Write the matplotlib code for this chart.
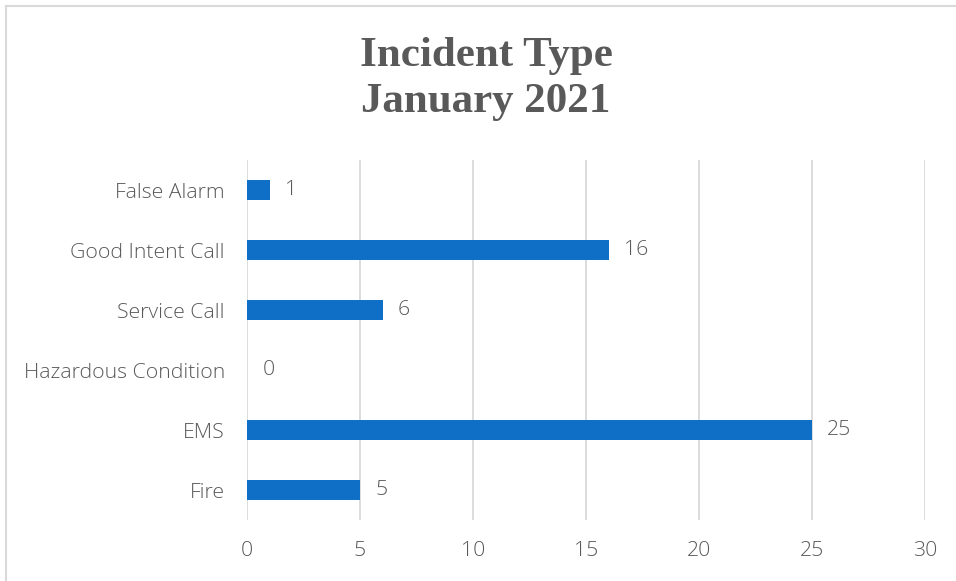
import matplotlib.pyplot as plt
from matplotlib.lines import Line2D

categories = ['Fire', 'EMS', 'Hazardous Condition', 'Service Call', 'Good Intent Call', 'False Alarm']
counts = [5, 25, 0, 6, 16, 1]
x_ticks = [0, 5, 10, 15, 20, 25, 30]

gray = '#595959'
blue = '#0F6FC6'
label_font = dict(family='Open Sans', fontweight='light')

fig = plt.figure(figsize=(9.56, 5.81), dpi=100, facecolor='white')
ax = fig.add_axes([247 / 956, 61 / 581, 678 / 956, 360 / 581])

bars = ax.barh(categories, counts, height=0.34, color=blue, zorder=3)
ax.bar_label(bars, padding=11, color=gray, fontsize=15.3, **label_font)

ax.set_xlim(0, 30)
ax.set_ylim(-0.5, len(categories) - 0.5)
ax.set_xticks(x_ticks)
ax.grid(axis='x', color='#d9d9d9', linewidth=1.3, zorder=0)
for s in ax.spines.values():
    s.set_visible(False)
ax.tick_params(length=0, colors=gray, labelsize=15.3, pad=15)
ax.tick_params(axis='y', pad=16)
for lab in ax.get_xticklabels() + ax.get_yticklabels():
    lab.set_family('Open Sans')
    lab.set_fontweight('light')

fig.text(486 / 956, 1 - 79 / 581, 'Incident Type\nJanuary 2021', ha='center', va='center',
         family='Liberation Serif', fontweight='bold', fontsize=31, color=gray, linespacing=1.3)

# light frame round the chart area
fig.add_artist(Line2D([6 / 956, 6 / 956], [0, 1 - 6 / 581], color='#d9d9d9', linewidth=1.5))
fig.add_artist(Line2D([6 / 956, 1], [1 - 6 / 581, 1 - 6 / 581], color='#d9d9d9', linewidth=1.5))

fig.savefig('out.png', dpi=100, facecolor='white')
